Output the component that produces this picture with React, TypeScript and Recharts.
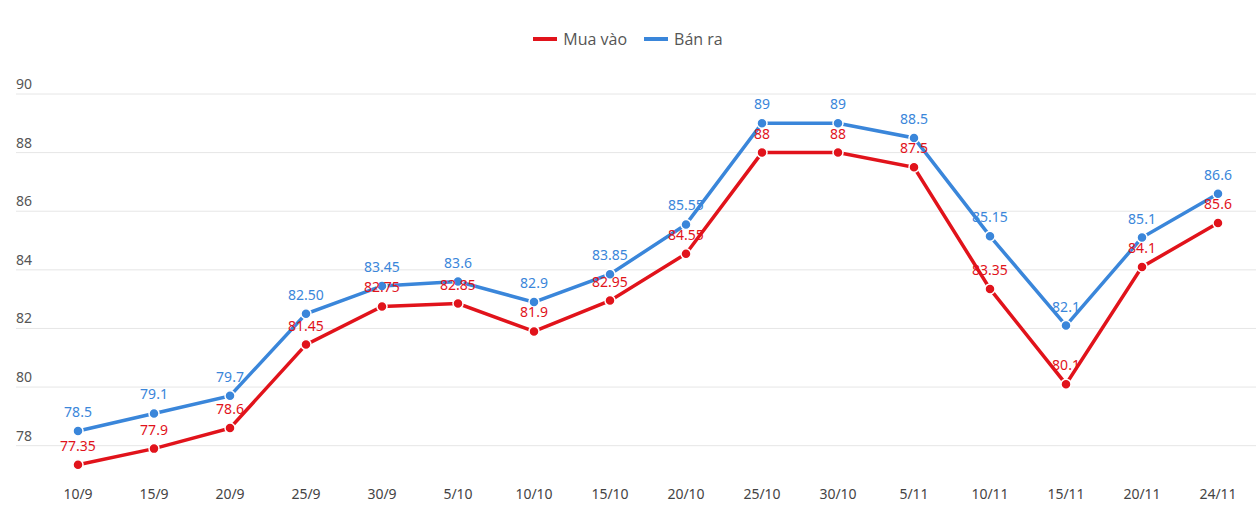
import { LineChart, Line, XAxis, YAxis, CartesianGrid, LabelList } from 'recharts';

const dates = ['10/9', '15/9', '20/9', '25/9', '30/9', '5/10', '10/10', '15/10', '20/10', '25/10', '30/10', '5/11', '10/11', '15/11', '20/11', '24/11'];
const muaVao = [77.35, 77.9, 78.6, 81.45, 82.75, 82.85, 81.9, 82.95, 84.55, 88, 88, 87.5, 83.35, 80.1, 84.1, 85.6];
const banRa = [78.5, 79.1, 79.7, 82.5, 83.45, 83.6, 82.9, 83.85, 85.55, 89, 89, 88.5, 85.15, 82.1, 85.1, 86.6];
const muaLabels = ['77.35', '77.9', '78.6', '81.45', '82.75', '82.85', '81.9', '82.95', '84.55', '88', '88', '87.5', '83.35', '80.1', '84.1', '85.6'];
const banLabels = ['78.5', '79.1', '79.7', '82.50', '83.45', '83.6', '82.9', '83.85', '85.55', '89', '89', '88.5', '85.15', '82.1', '85.1', '86.6'];
const yTicks = [78, 80, 82, 84, 86, 88, 90];

const RED = '#e1131b';
const BLUE = '#3a86da';
const FONT = '"Noto Sans", "Open Sans", sans-serif';

const data = dates.map((d, i) => ({ date: d, mua: muaVao[i], ban: banRa[i], muaL: muaLabels[i], banL: banLabels[i] }));

const YTick = ({ y, payload }: any) => (
  <text x={16} y={y - 5} fontSize={14} fill="#555" fontFamily={FONT} textAnchor="start">{payload.value}</text>
);

const XTick = ({ x, y, payload }: any) => (
  <text x={x} y={y + 16} fontSize={14} fill="#444" fontFamily={FONT} textAnchor="middle">{payload.value}</text>
);

const makeLabel = (color: string) => (props: any) => {
  const { x, y, value } = props;
  return (
    <text x={x} y={y - 14} fontSize={14} fill={color} fontFamily={FONT} textAnchor="middle">{value}</text>
  );
};

const legendItems = [
  { name: 'Mua vào', color: RED },
  { name: 'Bán ra', color: BLUE },
];

export default function App() {
  return (
    <div style={{ position: 'absolute', left: 0, top: 0, width: 1256, height: 532, background: '#fff' }}>
      <div style={{ position: 'absolute', top: 28, left: 0, width: 1256, display: 'flex', justifyContent: 'center', gap: 17, fontFamily: '"Open Sans", sans-serif', fontSize: 16, color: '#555', lineHeight: '22px' }}>
        {legendItems.map(it => (
          <span key={it.name} style={{ display: 'flex', alignItems: 'center', gap: 6 }}>
            <span style={{ width: 24, height: 4, background: it.color, display: 'inline-block' }} />{it.name}
          </span>
        ))}
      </div>
      <LineChart width={1256} height={532} data={data} margin={{ top: 94, right: 0, bottom: 0, left: 15 }}>
        <CartesianGrid horizontal vertical={false} stroke="#e6e6e6" horizontalValues={yTicks} />
        <XAxis dataKey="date" axisLine={false} tickLine={false} height={57} tick={<XTick />} padding={{ left: 62, right: 38 }} interval={0} />
        <YAxis domain={[77, 90]} ticks={yTicks} axisLine={false} tickLine={false} width={1} tick={<YTick />} />
        <Line type="linear" dataKey="mua" stroke={RED} strokeWidth={3.5} isAnimationActive={false}
          dot={{ r: 5, fill: RED, stroke: '#fff', strokeWidth: 1.5 }}>
          <LabelList dataKey="muaL" content={makeLabel(RED)} />
        </Line>
        <Line type="linear" dataKey="ban" stroke={BLUE} strokeWidth={3.5} isAnimationActive={false}
          dot={{ r: 5, fill: BLUE, stroke: '#fff', strokeWidth: 1.5 }}>
          <LabelList dataKey="banL" content={makeLabel(BLUE)} />
        </Line>
      </LineChart>
    </div>
  );
}
